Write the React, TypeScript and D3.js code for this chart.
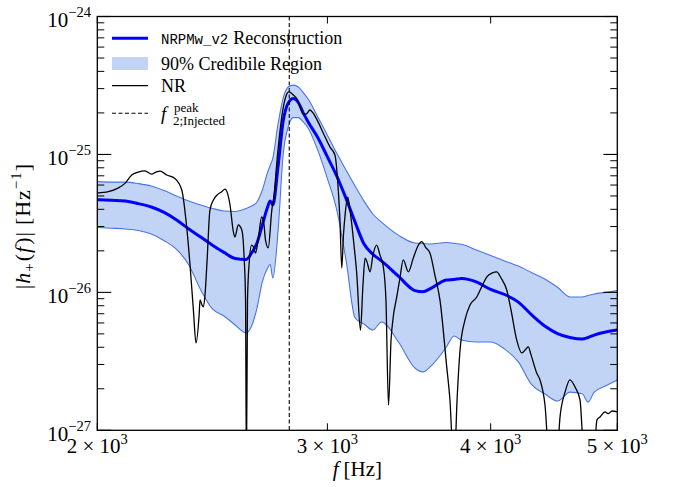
import React from 'react';
import * as d3 from 'd3';

// ---- data ----
const bandFreq = [2000, 2050, 2100, 2150, 2200, 2250, 2300, 2350, 2400, 2450, 2500, 2550, 2600, 2625, 2650, 2675, 2700, 2712, 2725, 2750, 2775, 2800, 2825, 2850, 2875, 2900, 2950, 3000, 3050, 3100, 3150, 3200, 3250, 3300, 3400, 3500, 3550, 3600, 3700, 3750, 3800, 3900, 4000, 4100, 4200, 4300, 4400, 4500, 4600, 4700, 4750, 4800, 4900, 5000];
const medianAmp = [4.7e-26, 4.65e-26, 4.6e-26, 4.4e-26, 4.16e-26, 3.8e-26, 3.35e-26, 2.88e-26, 2.52e-26, 2.2e-26, 1.95e-26, 1.76e-26, 1.73e-26, 1.93e-26, 2.28e-26, 3.08e-26, 4.16e-26, 4.6e-26, 4.3e-26, 8.1e-26, 1.74e-25, 2.36e-25, 2.54e-25, 2.38e-25, 2.0e-25, 1.72e-25, 1.32e-25, 9.6e-26, 6.97e-26, 4.8e-26, 3.23e-26, 2.24e-26, 1.89e-26, 1.69e-26, 1.31e-26, 1.03e-26, 1.01e-26, 1.07e-26, 1.23e-26, 1.24e-26, 1.26e-26, 1.19e-26, 1.05e-26, 9.65e-27, 8.5e-27, 6.86e-27, 5.7e-27, 5.03e-27, 4.71e-27, 4.59e-27, 4.71e-27, 4.9e-27, 5.16e-27, 5.33e-27];
const upperAmp = [6.35e-26, 6.3e-26, 6.3e-26, 6.15e-26, 5.9e-26, 5.47e-26, 5.0e-26, 4.59e-26, 4.3e-26, 4.06e-26, 3.89e-26, 3.86e-26, 4.06e-26, 4.23e-26, 4.52e-26, 5.52e-26, 7.45e-26, 8.3e-26, 9.4e-26, 1.66e-25, 2.56e-25, 3.08e-25, 3.18e-25, 3.08e-25, 2.81e-25, 2.52e-25, 1.87e-25, 1.38e-25, 1.02e-25, 7.7e-26, 5.9e-26, 4.59e-26, 3.7e-26, 3.23e-26, 2.6e-26, 2.28e-26, 2.26e-26, 2.24e-26, 2.3e-26, 2.27e-26, 2.23e-26, 2.03e-26, 1.85e-26, 1.69e-26, 1.55e-26, 1.39e-26, 1.25e-26, 1.09e-26, 9.26e-27, 9.26e-27, 9.5e-27, 9.73e-27, 1.0e-26, 1.03e-26];
const lowerAmp = [2.96e-26, 2.92e-26, 2.88e-26, 2.81e-26, 2.65e-26, 2.37e-26, 2.05e-26, 1.58e-26, 1.04e-26, 7.58e-27, 6.74e-27, 5.8e-27, 5.08e-27, 5.7e-27, 7.7e-27, 1.19e-26, 1.5e-26, 1.6e-26, 1.27e-26, 2.76e-26, 1.0e-25, 1.59e-25, 1.85e-25, 1.85e-25, 1.72e-25, 1.55e-25, 1.07e-25, 6.68e-26, 3.95e-26, 1.72e-26, 6.52e-27, 5.9e-27, 5.33e-27, 6.1e-27, 4.37e-27, 2.83e-27, 2.65e-27, 2.92e-27, 4.02e-27, 4.83e-27, 4.51e-27, 4.37e-27, 4.37e-27, 3.88e-27, 3.13e-27, 2.14e-27, 1.84e-27, 1.63e-27, 1.89e-27, 1.84e-27, 1.6e-27, 1.89e-27, 2.1e-27, 2.32e-27];

const nrFreq = [2000, 2039, 2074, 2100, 2125, 2149, 2175, 2201, 2218, 2234, 2260, 2293, 2321, 2341, 2355, 2369, 2380, 2393, 2397, 2405, 2411, 2418, 2427, 2439, 2454, 2470, 2490, 2505, 2514, 2527, 2542, 2549, 2564, 2580, 2590, 2597, 2601, 2606, 2614, 2625, 2633, 2643, 2655, 2672, 2683, 2690, 2703, 2720, 2731, 2744, 2760, 2776, 2789, 2803, 2825, 2844, 2859, 2875, 2889, 2909, 2925, 2946, 2978, 3014, 3040, 3058, 3067, 3077, 3086, 3095, 3109, 3122, 3131, 3144, 3159, 3180, 3194, 3206, 3217, 3234, 3251, 3272, 3291, 3311, 3326, 3341, 3356, 3369, 3390, 3409, 3429, 3460, 3490, 3519, 3542, 3569, 3594, 3626, 3658, 3702, 3723, 3750, 3770, 3790, 3823, 3857, 3903, 3948, 3972, 4009, 4043, 4074, 4115, 4146, 4188, 4225, 4257, 4274, 4295, 4338, 4363, 4402, 4441, 4488, 4520, 4560, 4600, 4641, 4682, 4723, 4790, 4824, 4850, 4893, 4919, 4954, 5000];
const nrAmp = [5.25e-26, 5.37e-26, 5.7e-26, 6.17e-26, 7.09e-26, 7.45e-26, 7.61e-26, 7.2e-26, 7.45e-26, 7.58e-26, 7.09e-26, 6.7e-26, 5.52e-26, 2.99e-26, 1.58e-26, 7.45e-27, 4.3e-27, 6.86e-27, 8.81e-27, 8.1e-27, 7.84e-27, 9.57e-27, 1.72e-26, 3.95e-26, 4.67e-26, 5.08e-26, 5.37e-26, 5.61e-26, 5.33e-26, 4.3e-26, 2.74e-26, 2.52e-26, 3.08e-26, 2.83e-26, 1.87e-26, 8.81e-27, 5e-28, 8.81e-27, 1.66e-26, 2.2e-26, 2.14e-26, 1.93e-26, 2.39e-26, 3.52e-26, 3.08e-26, 2.39e-26, 2.1e-26, 3.95e-26, 5.08e-26, 8.66e-26, 1.5e-25, 2.21e-25, 2.65e-25, 2.84e-25, 2.7e-25, 2.52e-25, 2.21e-25, 1.96e-25, 1.96e-25, 2.1e-25, 2.0e-25, 1.78e-25, 1.43e-25, 1.13e-25, 9.9e-26, 5.52e-26, 3.35e-26, 1.5e-26, 2.6e-26, 3.64e-26, 4.9e-26, 3.95e-26, 3.18e-26, 2.2e-26, 1.38e-26, 5.33e-27, 1.13e-26, 1.77e-26, 1.66e-26, 1.41e-26, 1.87e-26, 2.2e-26, 1.87e-26, 1.52e-26, 8.81e-27, 1.52e-27, 4.51e-27, 6.63e-27, 9.26e-27, 1.27e-26, 1.72e-26, 1.41e-26, 1.77e-26, 2.17e-26, 2.33e-26, 2.1e-26, 1.93e-26, 1.33e-26, 8.81e-27, 2.88e-27, 1.66e-27, 5e-28, 1.66e-27, 3.82e-27, 6.31e-27, 8.1e-27, 9.26e-27, 1.16e-26, 1.29e-26, 1.38e-26, 1.41e-26, 1.27e-26, 1.04e-26, 7.45e-27, 4.51e-27, 3.64e-27, 3.88e-27, 4.02e-27, 3.52e-27, 2.6e-27, 2.32e-27, 1.52e-27, 5e-28, 5e-28, 1.25e-27, 1.89e-27, 2.32e-27, 2.06e-27, 1.66e-27, 5e-28, 5e-28, 1.19e-27, 1.25e-27, 1.36e-27, 1.32e-27, 1.38e-27, 1.36e-27];

const peakFreq = 2805;
const xTickValues = [2000, 3000, 4000, 5000];
const xTickMantissa = ['2', '3', '4', '5'];
const yDecadeExps = [-27, -26, -25, -24];

const SERIF = '"Liberation Serif", "Times New Roman", serif';
const MONO = '"Liberation Mono", "DejaVu Sans Mono", monospace';
const FILL = '#c1d4f6';
const EDGE = '#4a74e4';

export default function App() {
  const W = 677, H = 487;
  const L = 97.3, R = 617.3, T = 16.5, B = 430.3;
  const x = d3.scaleLog().domain([2000, 5000]).range([L, R]);
  const y = d3.scaleLog().domain([1e-27, 1e-24]).range([B, T]);

  const bi = bandFreq.map((_, i) => i);
  const area = d3.area<number>()
    .x((i) => x(bandFreq[i]))
    .y0((i) => y(lowerAmp[i]))
    .y1((i) => y(upperAmp[i]))
    .curve(d3.curveMonotoneX)(bi);
  const bandLine = (arr: number[]) =>
    d3.line<number>().x((i) => x(bandFreq[i])).y((i) => y(arr[i])).curve(d3.curveMonotoneX)(bi);
  const nrPath = d3.line<number>()
    .x((i) => x(nrFreq[i]))
    .y((i) => y(nrAmp[i]))
    .curve(d3.curveMonotoneX)(nrFreq.map((_, i) => i));

  const minorY: number[] = [];
  for (let d = -27; d < -24; d++) for (let k = 2; k <= 9; k++) minorY.push(k * Math.pow(10, d));

  const px = x(peakFreq);

  return (
    <div style={{ position: 'absolute', left: 0, top: 0 }}>
      <svg width={W} height={H} style={{ display: 'block', background: '#fff' }}>
        <defs>
          <clipPath id="plotclip">
            <rect x={L} y={T} width={R - L} height={B - T} />
          </clipPath>
        </defs>
        <g clipPath="url(#plotclip)">
          <path d={area || ''} fill={FILL} stroke="none" />
          <path d={bandLine(upperAmp) || ''} fill="none" stroke={EDGE} strokeWidth={1.1} />
          <path d={bandLine(lowerAmp) || ''} fill="none" stroke={EDGE} strokeWidth={1.1} />
          <path d={bandLine(medianAmp) || ''} fill="none" stroke="#0000ff" strokeWidth={3} strokeLinejoin="round" />
          <path d={nrPath || ''} fill="none" stroke="#000" strokeWidth={1.3} strokeLinejoin="round" />
          <line x1={px} x2={px} y1={T} y2={B} stroke="#000" strokeWidth={1.1} strokeDasharray="4,2.5" />
        </g>
        {/* frame */}
        <rect x={L} y={T} width={R - L} height={B - T} fill="none" stroke="#000" strokeWidth={1.3} />
        {/* y ticks */}
        {yDecadeExps.map((e) => {
          const yy = y(Math.pow(10, e));
          return (
            <g key={'yM' + e}>
              <line x1={L} x2={L + 14} y1={yy} y2={yy} stroke="#000" strokeWidth={1.1} />
              <line x1={R - 14} x2={R} y1={yy} y2={yy} stroke="#000" strokeWidth={1.1} />
              <text x={91} y={yy + 10.3} textAnchor="end" fontFamily={SERIF} fontSize={21}>
                10<tspan fontSize={14.5} dy={-9.7}>{'\u2212' + String(-e)}</tspan>
              </text>
            </g>
          );
        })}
        {minorY.map((v, i) => {
          const yy = y(v);
          return (
            <g key={'ym' + i}>
              <line x1={L} x2={L + 7} y1={yy} y2={yy} stroke="#000" strokeWidth={1} />
              <line x1={R - 7} x2={R} y1={yy} y2={yy} stroke="#000" strokeWidth={1} />
            </g>
          );
        })}
        {/* x ticks */}
        {xTickValues.map((v, i) => {
          const xx = x(v);
          return (
            <g key={'x' + v}>
              <line x1={xx} x2={xx} y1={B} y2={B - 7} stroke="#000" strokeWidth={1} />
              <line x1={xx} x2={xx} y1={T} y2={T + 7} stroke="#000" strokeWidth={1} />
              <text x={xx} y={453} textAnchor="middle" fontFamily={SERIF} fontSize={21}>
                {xTickMantissa[i] + ' \u00d7 10'}
                <tspan fontSize={14.5} dy={-9}>3</tspan>
              </text>
            </g>
          );
        })}
        {/* axis labels */}
        <text x={(L + R) / 2} y={476} textAnchor="middle" fontFamily={SERIF} fontSize={21}>
          <tspan fontStyle="italic">f</tspan>
          <tspan dx={5}>[Hz]</tspan>
        </text>
        <text transform="translate(30,226) rotate(-90)" textAnchor="middle" fontFamily={SERIF} fontSize={22} letterSpacing={1}>
          |<tspan fontStyle="italic">h</tspan>
          <tspan fontSize={15} dy={4}>+</tspan>
          <tspan dy={-4} dx={1}>(</tspan>
          <tspan fontStyle="italic">f</tspan>
          <tspan dx={1}>)|</tspan>
          <tspan dx={6}>[Hz</tspan>
          <tspan fontSize={15} dy={-9}>{'\u22121'}</tspan>
          <tspan dy={9}>]</tspan>
        </text>
        {/* legend */}
        <line x1={112} x2={148} y1={38.3} y2={38.3} stroke="#0000ff" strokeWidth={3} />
        <text x={161} y={44.3} fontFamily={SERIF} fontSize={18}>
          <tspan fontFamily={MONO} fontSize={14}>NRPMw_v2</tspan>
          <tspan dx={5}>Reconstruction</tspan>
        </text>
        <rect x={112} y={57} width={36} height={13} fill={FILL} />
        <text x={161} y={69.5} fontFamily={SERIF} fontSize={18}>90% Credibile Region</text>
        <line x1={112} x2={148} y1={85.7} y2={85.7} stroke="#000" strokeWidth={1.3} />
        <text x={161} y={91.8} fontFamily={SERIF} fontSize={18}>NR</text>
        <line x1={112} x2={148} y1={113.3} y2={113.3} stroke="#000" strokeWidth={1.1} strokeDasharray="4,2.5" />
        <text x={161} y={120} fontFamily={SERIF} fontSize={19}>
          <tspan fontStyle="italic">f</tspan>
        </text>
        <text x={174} y={111.5} fontFamily={SERIF} fontSize={13}>peak</text>
        <text x={173} y={125} fontFamily={SERIF} fontSize={13}>2;Injected</text>
      </svg>
    </div>
  );
}
